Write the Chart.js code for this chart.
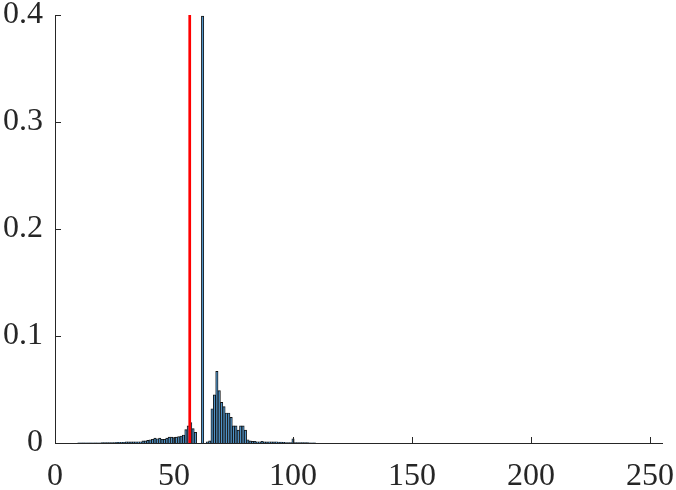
<!DOCTYPE html>
<html>
<head>
<meta charset="utf-8">
<style>
  html, body { margin: 0; padding: 0; background: #ffffff; }
  #wrap { width: 676px; height: 490px; }
</style>
<script src="https://cdn.jsdelivr.net/npm/chart.js@4.4.1/dist/chart.umd.min.js"></script>
</head>
<body>
<div id="wrap"><canvas id="c" width="676" height="490"></canvas></div>
<script>
// Histogram bins (grey level) and normalized frequencies
const bins = [
  10,11,12,13,14,15,16,17,18,19,
  20,21,22,23,24,25,26,27,28,29,
  30,31,32,33,34,35,36,37,38,39,
  40,41,42,43,44,45,46,47,48,49,
  50,51,52,53,54,55,56,57,58,59,
  60,61,62,63,64,65,66,67,68,69,
  70,71,72,73,74,75,76,77,78,79,
  80,81,82,83,84,85,86,87,88,89,
  90,91,92,93,94,95,96,97,98,99,
  100,101,102,103,104,105,106,107,108,109
];
const freq = [
  0.0002,0.0002,0.0002,0.0002,0.0002,0.0002,0.0002,0.0002,0.0002,0.0002,
  0.0004,0.0004,0.0004,0.0004,0.0004,0.0004,0.0007,0.0007,0.0007,0.0007,
  0.001,0.001,0.001,0.001,0.0012,0.0012,0.0012,0.002,0.002,0.0025,
  0.003,0.0035,0.0045,0.004,0.0045,0.0035,0.0035,0.0045,0.0055,0.0055,
  0.005,0.0055,0.006,0.0065,0.0075,0.0125,0.016,0.019,0.0135,0.010,
  0,0,0.399,0,0.001,0.002,0.032,0.045,0.067,0.049,
  0.038,0.034,0.028,0.028,0.024,0.016,0.016,0.012,0.016,0.016,
  0.012,0.003,0.002,0.0015,0.0015,0.0012,0.0012,0.0015,0.001,0.001,
  0.0012,0.001,0.001,0.0012,0.0008,0.0008,0.0006,0.0005,0.0005,0.0004,
  0.004,0.0004,0.0003,0.0003,0.0003,0.0003,0.0003,0.0002,0.0002,0.0002
];
const threshold = 56.6;
const thresholdSpan = [0, 0.4];
const xTicks = [0, 50, 100, 150, 200, 250];
const yTicks = [0, 0.1, 0.2, 0.3, 0.4];
const yTickLabels = ['0', '0.1', '0.2', '0.3', '0.4'];
const xRange = [0, 255];

const axisColor = '#262626';
const fontSpec = { family: '"Liberation Serif", "DejaVu Serif", serif', size: 32 };

const inwardTicks = {
  id: 'inwardTicks',
  afterDatasetsDraw(chart) {
    const { ctx, chartArea, scales } = chart;
    ctx.save();
    ctx.strokeStyle = axisColor;
    ctx.lineWidth = 1;
    ctx.beginPath();
    xTicks.forEach(v => {
      const px = Math.round(scales.x.getPixelForValue(v)) + 0.5;
      ctx.moveTo(px, chartArea.bottom);
      ctx.lineTo(px, chartArea.bottom - 6);
    });
    yTicks.forEach(v => {
      const py = Math.round(scales.y.getPixelForValue(v)) + 0.5;
      ctx.moveTo(chartArea.left, py);
      ctx.lineTo(chartArea.left + 6, py);
    });
    ctx.stroke();
    ctx.restore();
  }
};

new Chart(document.getElementById('c'), {
  type: 'bar',
  data: {
    datasets: [
      {
        type: 'line',
        data: thresholdSpan.map(y => ({ x: threshold, y })),
        borderColor: '#ff0000',
        borderWidth: 2.7,
        pointRadius: 0,
        fill: false,
        order: 1
      },
      {
        type: 'bar',
        data: bins.map((b, i) => ({ x: b, y: freq[i] })),
        backgroundColor: '#4f93c8',
        borderColor: '#111111',
        borderWidth: 0.9,
        barPercentage: 1,
        categoryPercentage: 1,
        grouped: false,
        order: 2
      }
    ]
  },
  options: {
    responsive: false,
    animation: false,
    devicePixelRatio: 1,
    layout: { padding: { top: 15, right: 14, left: 0, bottom: 0 } },
    plugins: { legend: { display: false }, tooltip: { enabled: false } },
    scales: {
      x: {
        type: 'linear',
        min: xRange[0],
        max: xRange[1],
        offset: false,
        grid: { display: false, drawTicks: false },
        border: { display: true, color: axisColor, width: 1 },
        ticks: { font: fontSpec, color: axisColor, padding: 14, maxRotation: 0, autoSkip: false },
        afterBuildTicks(scale) { scale.ticks = xTicks.map(v => ({ value: v })); },
        afterFit(scale) { scale.height = 47; scale.paddingRight = 0; scale.paddingLeft = 0; }
      },
      y: {
        type: 'linear',
        min: yTicks[0],
        max: yTicks[yTicks.length - 1],
        grid: { display: false, drawTicks: false },
        border: { display: true, color: axisColor, width: 1 },
        ticks: {
          font: fontSpec, color: axisColor, padding: 12,
          callback: (v, i) => yTickLabels[i]
        },
        afterBuildTicks(scale) { scale.ticks = yTicks.map(v => ({ value: v })); },
        afterFit(scale) { scale.width = 55; scale.paddingTop = 0; scale.paddingBottom = 0; }
      }
    }
  },
  plugins: [inwardTicks]
});
</script>
</body>
</html>
